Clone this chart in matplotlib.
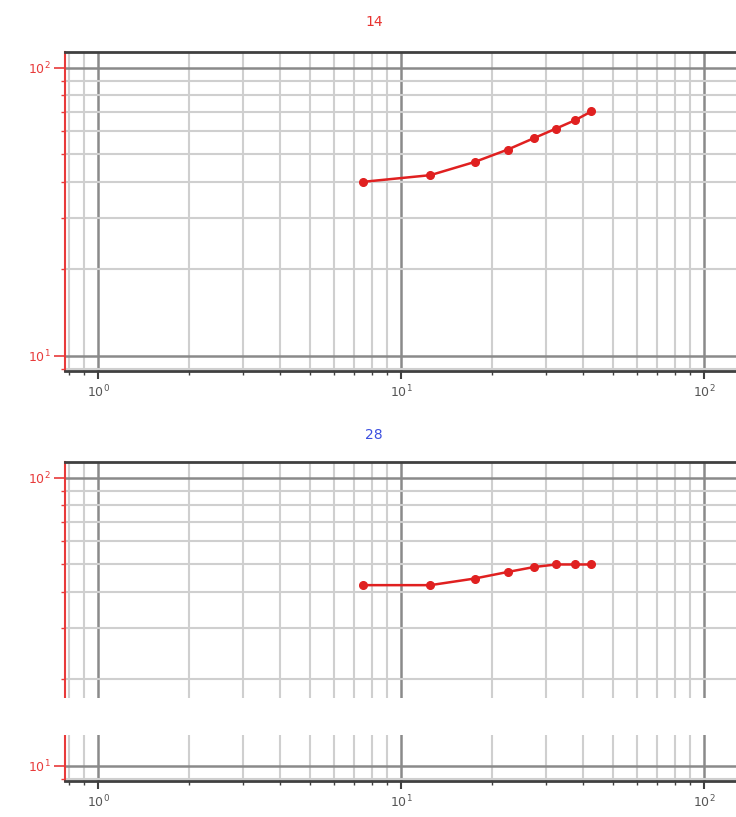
import matplotlib.pyplot as plt
import matplotlib.transforms as mtransforms
from matplotlib.patches import Rectangle
from matplotlib.ticker import LogLocator, FixedLocator, NullFormatter
import numpy as np

# data
x_vals = [7.5, 12.5, 17.5, 22.5, 27.5, 32.5, 37.5, 42.5]
y_14 = [40.1, 42.3, 47.0, 51.9, 56.9, 61.4, 65.6, 70.4]
y_28 = [42.3, 42.3, 44.6, 47.0, 48.9, 49.9, 49.9, 49.9]
panel_titles = ['14', '28']
title_colors = ['#e8322f', '#3c4fe0']
x_ticks = [1, 10, 100]
x_ticklabels = ['$10^{0}$', '$10^{1}$', '$10^{2}$']
y_ticks = [10, 100]
y_ticklabels = ['$10^{1}$', '$10^{2}$']

plt.rcParams['font.family'] = 'DejaVu Sans'

fig = plt.figure(figsize=(7.36, 8.17), dpi=100)

red = '#e83a3a'
W, H = 736, 817
left = 65 / W
ax_h = 319 / H
panels = [(371, y_14), (781, y_28)]

for i, (bottom_px, yv) in enumerate(panels):
    ax = fig.add_axes([left, 1 - bottom_px / H, 1 - left, ax_h])
    ax.set_xscale('log')
    ax.set_yscale('log')
    ax.set_xlim(0.778, 127.5)
    ax.set_ylim(8.84, 113.2)

    ax.plot(x_vals, yv, color='#e02020', linewidth=1.8, marker='o',
            markersize=5.5, zorder=5)

    ax.xaxis.set_major_locator(FixedLocator(x_ticks))
    ax.xaxis.set_minor_locator(LogLocator(base=10, subs=np.arange(2, 10)))
    ax.yaxis.set_major_locator(FixedLocator(y_ticks))
    ax.yaxis.set_minor_locator(LogLocator(base=10, subs=np.arange(2, 10)))
    ax.xaxis.set_minor_formatter(NullFormatter())
    ax.yaxis.set_minor_formatter(NullFormatter())
    ax.set_xticklabels(x_ticklabels, fontsize=9, color='#555555')
    ax.set_yticklabels(y_ticklabels, fontsize=9, color=red)

    # shift x labels slightly left like the original
    offset = mtransforms.ScaledTranslation(-8 / 100, 0, fig.dpi_scale_trans)
    for lbl in ax.get_xticklabels():
        lbl.set_transform(lbl.get_transform() + offset)

    ax.grid(True, which='major', color='#8a8a8a', linewidth=1.8)
    ax.grid(True, which='minor', color='#cfcfcf', linewidth=1.5)
    ax.set_axisbelow(True)

    ax.tick_params(axis='x', which='major', length=6, width=1.5,
                   color='#404040', pad=3)
    ax.tick_params(axis='x', which='minor', length=3, width=1,
                   color='#404040')
    ax.tick_params(axis='y', which='major', length=8, width=1.2,
                   color=red, pad=2)
    ax.tick_params(axis='y', which='minor', length=3, width=1, color=red)

    for s in ['top', 'bottom']:
        ax.spines[s].set_color('#404040')
        ax.spines[s].set_linewidth(2)
    ax.spines['left'].set_color(red)
    ax.spines['left'].set_linewidth(1.5)
    ax.spines['right'].set_visible(False)

    title_y = 22 if i == 0 else 435
    fig.text(374 / W, 1 - title_y / H, panel_titles[i], color=title_colors[i],
             fontsize=10, ha='center', va='center')

# white band across the lower panel
fig.add_artist(Rectangle((0, 1 - 735 / H), 1, 37 / H, transform=fig.transFigure,
                         facecolor='white', edgecolor='none', zorder=10))

fig.savefig('out.png', dpi=100, facecolor='white')
